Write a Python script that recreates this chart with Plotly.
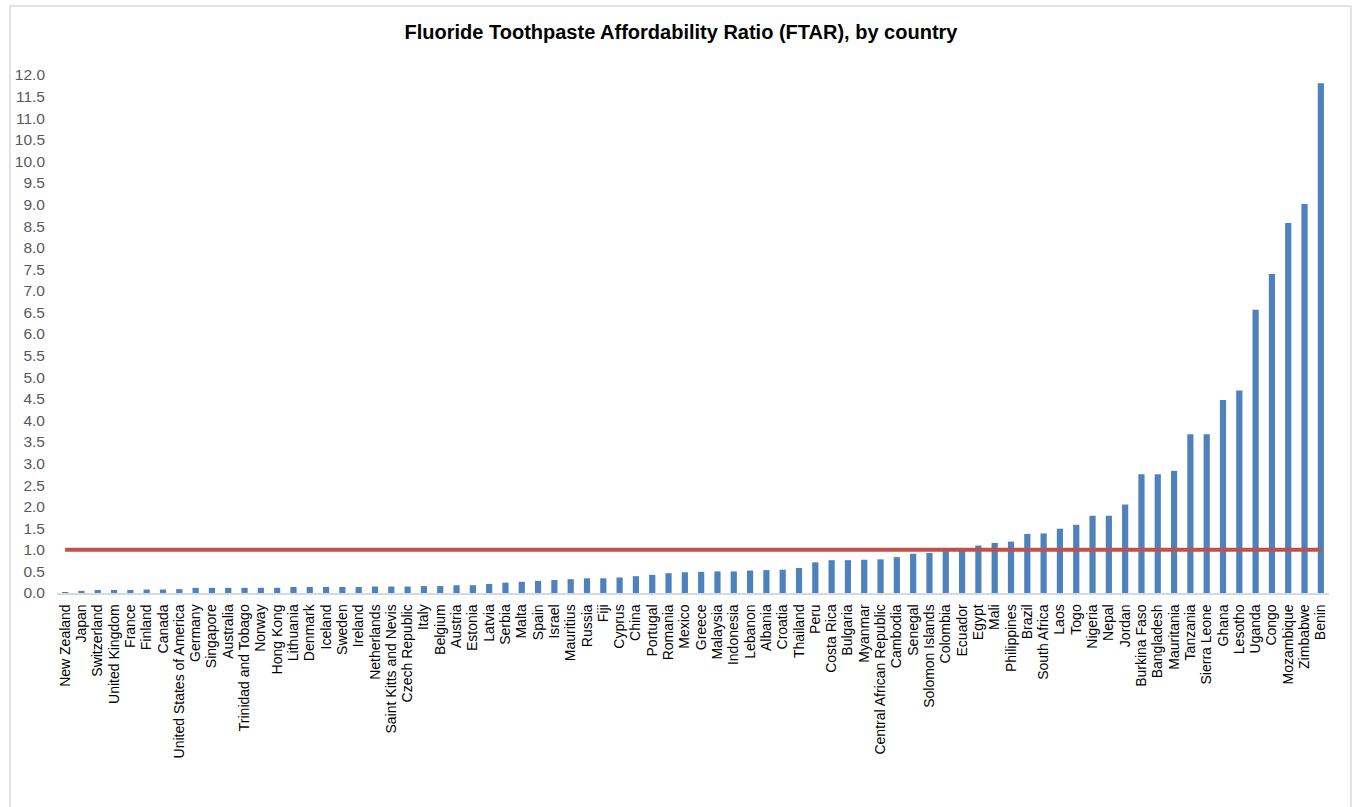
import plotly.graph_objects as go

countries = [
    "New Zealand", "Japan", "Switzerland", "United Kingdom", "France", "Finland", "Canada",
    "United States of America", "Germany", "Singapore", "Australia", "Trinidad and Tobago",
    "Norway", "Hong Kong", "Lithuania", "Denmark", "Iceland", "Sweden", "Ireland",
    "Netherlands", "Saint Kitts and Nevis", "Czech Republic", "Italy", "Belgium", "Austria",
    "Estonia", "Latvia", "Serbia", "Malta", "Spain", "Israel", "Mauritius", "Russia", "Fiji",
    "Cyprus", "China", "Portugal", "Romania", "Mexico", "Greece", "Malaysia", "Indonesia",
    "Lebanon", "Albania", "Croatia", "Thailand", "Peru", "Costa Rica", "Bulgaria", "Myanmar",
    "Central African Republic", "Cambodia", "Senegal", "Solomon Islands", "Colombia",
    "Ecuador", "Egypt", "Mali", "Philippines", "Brazil", "South Africa", "Laos", "Togo",
    "Nigeria", "Nepal", "Jordan", "Burkina Faso", "Bangladesh", "Mauritania", "Tanzania",
    "Sierra Leone", "Ghana", "Lesotho", "Uganda", "Congo", "Mozambique", "Zimbabwe", "Benin",
]

ftar = [
    0.02, 0.05, 0.07, 0.07, 0.07, 0.08, 0.08,
    0.09, 0.12, 0.12, 0.12, 0.12,
    0.12, 0.12, 0.14, 0.14, 0.14, 0.14, 0.14,
    0.15, 0.15, 0.15, 0.16, 0.16, 0.18,
    0.18, 0.21, 0.24, 0.26, 0.28, 0.30, 0.32, 0.34, 0.34,
    0.36, 0.39, 0.42, 0.46, 0.48, 0.49, 0.50, 0.50,
    0.52, 0.53, 0.54, 0.58, 0.71, 0.76, 0.76, 0.77,
    0.78, 0.83, 0.91, 0.93, 0.97,
    0.99, 1.10, 1.16, 1.19, 1.37, 1.38, 1.49, 1.58,
    1.79, 1.79, 2.05, 2.75, 2.75, 2.83, 3.68,
    3.68, 4.47, 4.69, 6.56, 7.39, 8.57, 9.01, 11.81,
]

threshold = [1.0] * len(countries)

y_ticks = [i * 0.5 for i in range(25)]
y_tick_labels = [f"{v:.1f}" for v in y_ticks]

W, H = 1354, 807
ML, MR, MT, MB = 57, 25, 75, 214
pw = W - ML - MR
ph = H - MT - MB

fig = go.Figure()
fig.add_trace(go.Bar(
    x=countries, y=ftar, marker=dict(color="#4F81BD", line=dict(width=0)),
    width=0.38, showlegend=False, hoverinfo="x+y",
))
fig.add_trace(go.Scatter(
    x=countries, y=threshold, mode="lines",
    line=dict(color="#C0504D", width=4), showlegend=False,
))

# chart-area border
fig.add_shape(
    type="rect", xref="paper", yref="paper",
    x0=(10 - ML) / pw, x1=(1351 - ML) / pw,
    y0=(H - MB - 830) / ph, y1=(H - MB - 6) / ph,
    line=dict(color="#D9D9D9", width=1.5), fillcolor="rgba(0,0,0,0)", layer="below",
)

fig.update_layout(
    width=W, height=H,
    margin=dict(l=ML, r=MR, t=MT, b=MB),
    paper_bgcolor="white", plot_bgcolor="white",
    font=dict(family="Liberation Sans, Arial, sans-serif", color="#000000"),
    title=dict(
        text="<b>Fluoride Toothpaste Affordability Ratio (FTAR), by country</b>",
        x=681 / W, xref="container", xanchor="center", y=1 - 32 / H, yanchor="middle",
        font=dict(size=20, color="#000000"),
    ),
    xaxis=dict(
        tickmode="array", tickvals=countries, ticktext=countries,
        tickangle=-90, tickfont=dict(size=14, color="#000000"),
        showline=True, linecolor="#D9D9D9", linewidth=1.5,
        ticks="", showgrid=False, automargin=False, ticklabelstandoff=4,
    ),
    yaxis=dict(
        range=[0, 12], tickvals=y_ticks, ticktext=y_tick_labels,
        tickfont=dict(size=15.5, color="#595959"),
        showgrid=False, zeroline=False, showline=False, ticks="",
        ticklabelstandoff=11, automargin=False,
    ),
)

fig.write_html(
    "out.html",
    config={"displayModeBar": False},
    post_script="document.body.style.margin='0';document.body.style.padding='0';",
)
